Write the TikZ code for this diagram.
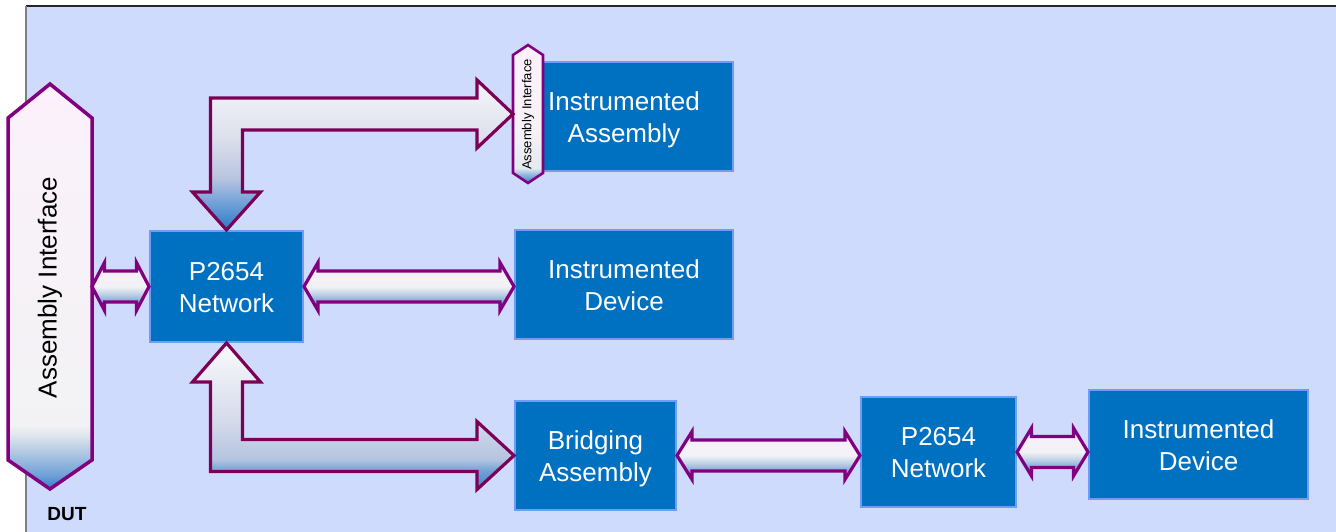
\documentclass[tikz,border=0pt]{standalone}
\usepackage{fontspec}
\setmainfont{Liberation Sans}
\usetikzlibrary{calc}
\definecolor{bgc}{HTML}{CFDBFC}
\definecolor{boxfill}{HTML}{0070C0}
\definecolor{boxline}{HTML}{6F9DF6}
\definecolor{purp}{HTML}{800080}
\definecolor{arrMaroon}{HTML}{7D0057}
% top L arrow
\definecolor{tA1}{HTML}{2A7AC6}
\definecolor{tA2}{HTML}{7FA8DA}
\definecolor{tA3}{HTML}{B8C4E0}
\definecolor{tA4}{HTML}{DCE0EC}
\definecolor{tA5}{HTML}{F6F7FB}
\pgfdeclareverticalshading{topLshade}{100bp}{color(0bp)=(tA1); color(25bp)=(tA1); color(35.7bp)=(tA2); color(42.3bp)=(tA3); color(55.7bp)=(tA4); color(75bp)=(tA5); color(100bp)=(tA5)}
% bottom L arrow
\definecolor{bA1}{HTML}{3A84CA}
\definecolor{bA2}{HTML}{70A0D6}
\definecolor{bA3}{HTML}{B4C4E0}
\definecolor{bA4}{HTML}{D4DAEA}
\definecolor{bA5}{HTML}{FAFAFC}
\pgfdeclareverticalshading{botLshade}{100bp}{color(0bp)=(bA1); color(25bp)=(bA1); color(31.3bp)=(bA2); color(35.3bp)=(bA3); color(48bp)=(bA4); color(75bp)=(bA5); color(100bp)=(bA5)}
% horizontal arrows
\definecolor{hA1}{HTML}{3C86CC}
\definecolor{hA2}{HTML}{7EAAD6}
\definecolor{hA3}{HTML}{C4D4E6}
\definecolor{hA4}{HTML}{F2F2F6}
\definecolor{hA5}{HTML}{F8EEF8}
\pgfdeclareverticalshading{hshade}{100bp}{color(0bp)=(hA1); color(25bp)=(hA1); color(34.4bp)=(hA2); color(42.7bp)=(hA3); color(50bp)=(hA4); color(75bp)=(hA5); color(100bp)=(hA5)}
% big hexagon
\definecolor{xA1}{HTML}{2E80CA}
\definecolor{xA2}{HTML}{6EA0D6}
\definecolor{xA3}{HTML}{A8C4E2}
\definecolor{xA4}{HTML}{E0E6EE}
\definecolor{xA5}{HTML}{F2F2F4}
\definecolor{xA6}{HTML}{F8F2F8}
\definecolor{xA7}{HTML}{FDF1FC}
\pgfdeclareverticalshading{hexshade}{100bp}{color(0bp)=(xA1); color(25bp)=(xA1); color(26.7bp)=(xA2); color(29.2bp)=(xA3); color(31.7bp)=(xA4); color(32.9bp)=(xA5); color(60bp)=(xA6); color(75bp)=(xA7); color(100bp)=(xA7)}
% small hexagon
\definecolor{sA1}{HTML}{3A86CC}
\definecolor{sA2}{HTML}{8AB4DC}
\definecolor{sA3}{HTML}{E4EAF0}
\definecolor{sA4}{HTML}{F6F2F6}
\definecolor{sA5}{HTML}{FDF1FC}
\pgfdeclareverticalshading{shexshade}{100bp}{color(0bp)=(sA1); color(25bp)=(sA1); color(27.9bp)=(sA2); color(30.4bp)=(sA3); color(45bp)=(sA4); color(75bp)=(sA5); color(100bp)=(sA5)}

\newcommand\hfatarrow[3]{%
  \shadedraw[hfat] let \p1=(#1), \p2=(#2) in
    (\x1,\y1) -- (\x1+#3,\y1+24pt) -- (\x1+#3,\y1+15.5pt) -- (\x2-#3,\y1+15.5pt)
    -- (\x2-#3,\y1+24pt) -- (\x2,\y1) -- (\x2-#3,\y1-24pt) -- (\x2-#3,\y1-15.5pt)
    -- (\x1+#3,\y1-15.5pt) -- (\x1+#3,\y1-24pt) -- cycle;}
\newcommand\btext[2]{\raisebox{-3.3pt}[\height][\depth]{\begin{tabular}{@{}c@{}}#1\\#2\end{tabular}}}

\begin{document}
\begin{tikzpicture}[x=1pt,y=-1pt,
  box/.style={draw=boxline, line width=2pt, fill=boxfill, text=white,
    inner sep=0pt, font=\fontsize{26}{32}\selectfont},
  hfat/.style={draw=purp, line width=3.2pt, shading=hshade},
  lfat/.style={draw=arrMaroon, line width=3.2pt},
  hexframe/.style={draw=purp, line width=3.5pt},
  holder/.style={inner sep=0pt, outer sep=0pt}]
\useasboundingbox (0,0) rectangle (1336,532);
\fill[bgc] (26,6) rectangle (1336,532);
\draw[black!85, line width=1.2pt] (26,6) -- (1336,6);
\draw[black!50, line width=1.5pt] (26,6) -- (26,532);

% boxes
\node[box, minimum width=218pt, minimum height=109pt] (ia) at (624,116.5) {\btext{Instrumented}{Assembly}};
\node[box, minimum width=153pt, minimum height=111pt] (p1) at (226.5,286.5) {\btext{P2654}{Network}};
\node[box, minimum width=218pt, minimum height=109pt] (id1) at (624,284.5) {\btext{Instrumented}{Device}};
\node[box, minimum width=161pt, minimum height=109pt] (ba) at (595.5,455.5) {\btext{Bridging}{Assembly}};
\node[box, minimum width=155pt, minimum height=110pt] (p2) at (938.5,452) {\btext{P2654}{Network}};
\node[box, minimum width=219pt, minimum height=109pt] (id2) at (1198.5,444.5) {\btext{Instrumented}{Device}};

% big assembly interface
\node[holder, minimum width=84pt, minimum height=405pt] (ai) at (50,286.5) {};
\shadedraw[hexframe, shading=hexshade] (ai.north) -- ($(ai.north east)+(0,34)$)
  -- ($(ai.south east)+(0,-29)$) -- (ai.south) -- ($(ai.south west)+(0,-29)$)
  -- ($(ai.north west)+(0,34)$) -- cycle;
\node[rotate=90, font=\fontsize{26}{30}\selectfont] (ailabel) at (50,287.5) {Assembly Interface};

% small assembly interface
\node[holder, minimum width=30pt, minimum height=138pt] (sai) at (528,114) {};
\shadedraw[draw=purp, line width=2.6pt, shading=shexshade] (sai.north) -- ($(sai.north east)+(0,10)$)
  -- ($(sai.south east)+(0,-10)$) -- (sai.south) -- ($(sai.south west)+(0,-10)$)
  -- ($(sai.north west)+(0,10)$) -- cycle;
\node[rotate=90, font=\fontsize{13}{15}\selectfont] (sailabel) at (528,114.5) {Assembly Interface};

% top L arrow
\shadedraw[lfat, shading=topLshade] let \p1=(p1.north), \p2=(sai.west) in
  (\x1,\y1) -- (\x1+34pt,\y1+38pt) -- (\x1+16pt,\y1+38pt) -- (\x1+16pt,\y2-16pt)
  -- (\x2-36pt,\y2-16pt) -- (\x2-36pt,\y2-34pt) -- (\x2,\y2) -- (\x2-36pt,\y2+34pt)
  -- (\x2-36pt,\y2+16pt) -- (\x1-16pt,\y2+16pt) -- (\x1-16pt,\y1+38pt)
  -- (\x1-34pt,\y1+38pt) -- cycle;

% bottom L arrow
\shadedraw[lfat, shading=botLshade] let \p1=(p1.south), \p2=(ba.west) in
  (\x1,\y1) -- (\x1+34pt,\y1-39pt) -- (\x1+16pt,\y1-39pt) -- (\x1+16pt,\y2+16pt)
  -- (\x2-37pt,\y2+16pt) -- (\x2-37pt,\y2+34pt) -- (\x2,\y2) -- (\x2-37pt,\y2-34pt)
  -- (\x2-37pt,\y2-16pt) -- (\x1-16pt,\y2-16pt) -- (\x1-16pt,\y1-39pt)
  -- (\x1-34pt,\y1-39pt) -- cycle;

% horizontal double arrows
\hfatarrow{ai.east}{p1.west}{12.5pt}
\hfatarrow{p1.east}{id1.west}{14pt}
\hfatarrow{ba.east}{p2.west}{15pt}
\hfatarrow{p2.east}{id2.west}{14.5pt}

\node[font=\bfseries\fontsize{19}{22}\selectfont] (dut) at (67,514) {DUT};
\end{tikzpicture}
\end{document}
